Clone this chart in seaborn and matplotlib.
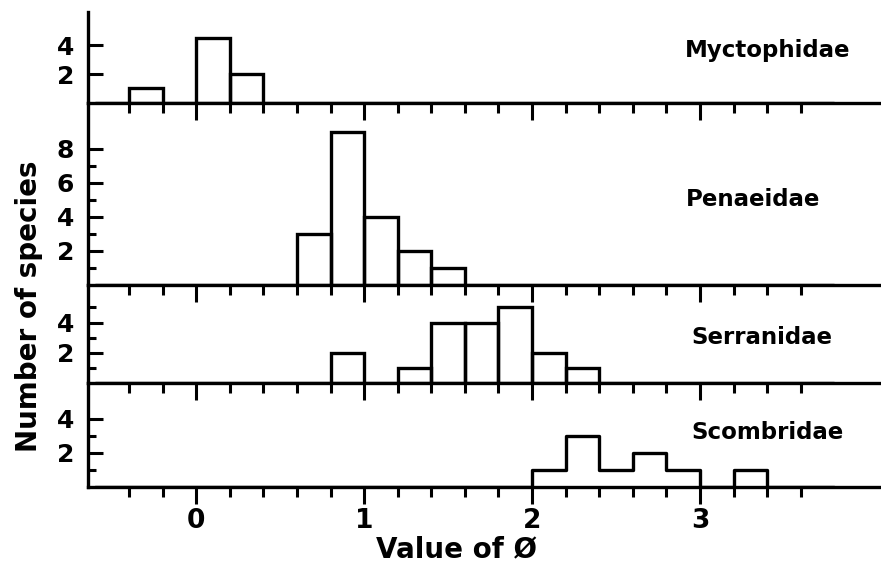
import numpy as np
import pandas as pd
import matplotlib.pyplot as plt
import seaborn as sns
from matplotlib.ticker import FixedLocator

# Values: bin centres of phi (0.2 wide bins) and species counts

myct_phi = [-0.3, 0.1, 0.3]
myct_n = [1, 4.5, 2]

pen_phi = [0.7, 0.9, 1.1, 1.3, 1.5]
pen_n = [3, 9, 4, 2, 1]

serr_phi = [0.9, 1.3, 1.5, 1.7, 1.9, 2.1, 2.3]
serr_n = [2, 1, 4, 4, 5, 2, 1]

scomb_phi = [2.1, 2.3, 2.5, 2.7, 2.9, 3.3]
scomb_n = [1, 3, 1, 2, 1, 1]

families = ["Myctophidae", "Penaeidae", "Serranidae", "Scombridae"]
x_major = [0, 1, 2, 3]
x_minor = [-0.4, -0.2, 0.2, 0.4, 0.6, 0.8, 1.2, 1.4, 1.6, 1.8,
           2.2, 2.4, 2.6, 2.8, 3.2, 3.4, 3.6]

###

sns.set_style("ticks")
plt.rcParams['font.family'] = ['DejaVu Sans']
plt.rcParams['font.weight'] = 'bold'
for k in ['text.color', 'axes.labelcolor', 'xtick.color', 'ytick.color']:
    plt.rcParams[k] = 'black'

bins = [round(b, 1) for b in np.arange(-0.6, 3.81, 0.2)]
lw = 2.4

fig = plt.figure(figsize=(8.81, 5.68), dpi=100)
gs = fig.add_gridspec(4, 1, height_ratios=[91, 182, 98, 104], hspace=0,
                      left=0.1, right=1.0, top=0.979, bottom=0.143)
axes = [fig.add_subplot(gs[i]) for i in range(4)]

panels = [
    (myct_phi, myct_n, "bars", 6.3, [2, 4], [], (0.857, 0.58)),
    (pen_phi, pen_n, "bars", 10.7, [2, 4, 6, 8], [1, 3, 5, 7], (0.839, 0.467)),
    (serr_phi, serr_n, "bars", 6.5, [2, 4], [1, 3, 5], (0.85, 0.46)),
    (scomb_phi, scomb_n, "step", 6.1, [2, 4], [1, 3], (0.857, 0.52)),
]

for i, (ax, (phi, n, elem, ytop, ymaj, ymin, tpos)) in enumerate(zip(axes, panels)):
    df = pd.DataFrame({"phi": phi, "n": n})
    sns.histplot(data=df, x="phi", weights="n", bins=bins, element=elem, fill=False,
                 color="black", linewidth=lw, ax=ax)
    ax.set_xlim(-0.643, 4.077)
    ax.set_ylim(0, ytop)
    sns.despine(ax=ax)
    for s in ["left", "bottom"]:
        ax.spines[s].set_linewidth(lw)
        ax.spines[s].set_color("black")
    ax.xaxis.set_major_locator(FixedLocator(x_major))
    ax.xaxis.set_minor_locator(FixedLocator(x_minor))
    ax.yaxis.set_major_locator(FixedLocator(ymaj))
    ax.yaxis.set_minor_locator(FixedLocator(ymin))
    ax.tick_params(axis="x", which="major", direction="out", length=12, width=2.2,
                   labelsize=19, pad=3)
    ax.tick_params(axis="x", which="minor", direction="out", length=7, width=2.2)
    ax.tick_params(axis="y", which="major", direction="in", length=11, width=2.2,
                   labelsize=18, pad=10)
    ax.tick_params(axis="y", which="minor", direction="in", length=6, width=2.2)
    ax.set_ylabel("")
    ax.set_xlabel("")
    if i < 3:
        ax.tick_params(axis="x", labelbottom=False)
    ax.text(tpos[0], tpos[1], families[i], transform=ax.transAxes,
            ha="center", va="center", fontsize=16.5, fontweight="bold")
    ax.patch.set_alpha(0)

fig.text(456 / 881, 1 - 549 / 568, "Value of Ø", ha="center", va="center",
         fontsize=20, fontweight="bold")
fig.text(0.033, 0.461, "Number of species", rotation=90, ha="center", va="center",
         fontsize=20, fontweight="bold")

plt.savefig("out.png", dpi=100)
